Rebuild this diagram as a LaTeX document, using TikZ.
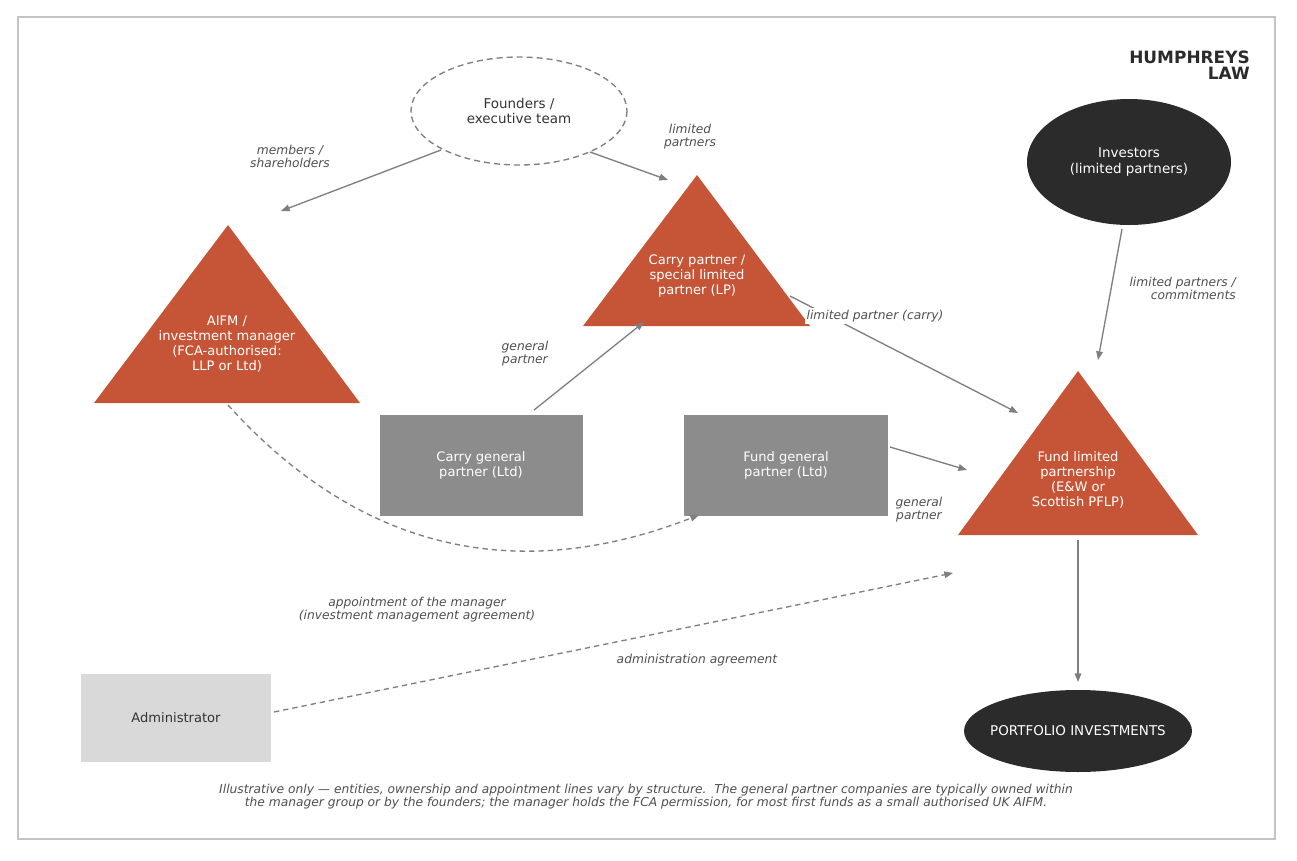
\documentclass[tikz,border=0pt]{standalone}
\usepackage{fontspec}
\setmainfont{DejaVu Sans}
\usetikzlibrary{arrows.meta}
\definecolor{rust}{HTML}{C65538}
\definecolor{ink}{HTML}{2B2B2B}
\definecolor{boxgray}{HTML}{8C8C8C}
\definecolor{lightbox}{HTML}{D9D9D9}
\definecolor{linegray}{HTML}{7F7F7F}
\definecolor{framegray}{HTML}{C4C4C4}
\definecolor{txt}{HTML}{333333}
\definecolor{labtxt}{HTML}{505050}
\tikzset{
  wtext/.style={text=white, align=center, font=\fontsize{9.8}{11.4}\selectfont, inner sep=0pt},
  dtext/.style={text=txt, align=center, font=\fontsize{9.8}{11.4}\selectfont, inner sep=0pt},
  lab/.style={text=labtxt, align=center, font=\fontsize{9.2}{9.8}\selectfont\itshape, inner sep=0pt},
  conn/.style={draw=linegray, line width=1pt, -{Triangle[length=6.5pt,width=5pt]}},
  dconn/.style={conn, dash pattern=on 4pt off 3pt},
}
\begin{document}
\begin{tikzpicture}[x=0.75pt,y=-0.75pt]
\useasboundingbox (0,0) rectangle (1297,861);
\fill[white] (0,0) rectangle (1297,861);
\draw[framegray, line width=1pt] (18,17) rectangle (1275,839);

% brand
\node[anchor=east, align=right, text=ink, font=\fontsize{12.7}{12}\selectfont\bfseries, inner sep=0pt] (brand) at (1250,65) {HUMPHREYS\\LAW};

% shapes
\draw[linegray, line width=1pt, dash pattern=on 4.5pt off 3pt] (519,111) ellipse [x radius=108, y radius=54];
\node[dtext, font=\fontsize{10.1}{11.4}\selectfont] (founders) at (519,111) {Founders /\\executive team};

\fill[ink] (1129,162) ellipse [x radius=102, y radius=63];
\node[wtext, font=\fontsize{10.1}{11.4}\selectfont] (investors) at (1129,162) {Investors\\(limited partners)};

\fill[rust] (228,225) -- (360,403) -- (94,403) -- cycle;
\node[wtext] (aifm) at (227,344) {AIFM /\\investment manager\\(FCA-authorised:\\LLP or Ltd)};

\fill[rust] (697,175) -- (810,326) -- (583,326) -- cycle;
\node[wtext] (carrylp) at (697,276) {Carry partner /\\special limited\\partner (LP)};

\fill[rust] (1078,371) -- (1198,535) -- (958,535) -- cycle;
\node[wtext] (fundlp) at (1078,480) {Fund limited\\partnership\\(E\&W or\\Scottish PFLP)};

\fill[boxgray] (380,415) rectangle (583,516);
\node[wtext] (carrygp) at (481,465.5) {Carry general\\partner (Ltd)};

\fill[boxgray] (684,415) rectangle (888,516);
\node[wtext] (fundgp) at (786,465.5) {Fund general\\partner (Ltd)};

\fill[lightbox] (81,674) rectangle (271,762);
\node[dtext] (admin) at (176,718) {Administrator};

\fill[ink] (1078,731) ellipse [x radius=114, y radius=41];
\node[wtext, font=\fontsize{10.1}{11.4}\selectfont] (portfolio) at (1078,731) {PORTFOLIO INVESTMENTS};

% connector endpoints
\coordinate (f1) at (441,150);
\coordinate (a1) at (281,211);
\coordinate (f2) at (590,152);
\coordinate (c1) at (668,180);
\coordinate (g1) at (534,410);
\coordinate (c2) at (644,322);
\coordinate (c3) at (790,296);
\coordinate (l1) at (1018,413);
\coordinate (i1) at (1122,229);
\coordinate (l2) at (1098,360);
\coordinate (g2) at (890,447);
\coordinate (l3) at (967,470);
\coordinate (l4) at (1078,540);
\coordinate (p1) at (1078,682);
\coordinate (a2) at (228,405);
\coordinate (g3) at (699,515);
\coordinate (d1) at (274,712);
\coordinate (l5) at (953,573);

\draw[conn] (f1) -- (a1);
\draw[conn] (f2) -- (c1);
\draw[conn] (g1) -- (c2);
\draw[conn] (c3) -- (l1);
\draw[conn] (i1) -- (l2);
\draw[conn] (g2) -- (l3);
\draw[conn] (l4) -- (p1);
\draw[dconn] (a2) .. controls (359,550) and (516,586) .. (g3);
\draw[dconn] (d1) -- (l5);

% labels
\node[lab] (lmem) at (290,156) {members /\\shareholders};
\node[lab] (llp) at (690,137) {limited\\partners};
\node[lab] (lgp1) at (525,354) {general\\partner};
\node[lab, fill=white, inner sep=1.5pt] (lcarry) at (875,316) {limited partner (carry)};
\node[lab, anchor=east, align=right] (lcom) at (1236,288) {limited partners /\\commitments};
\node[lab] (lgp2) at (919,510) {general\\partner};
\node[lab] (lapp) at (417,610) {appointment of the manager\\(investment management agreement)};
\node[lab] (ladm) at (697,660) {administration agreement};
\node[lab] (note) at (646,797) {Illustrative only — entities, ownership and appointment lines vary by structure.\ \ The general partner companies are typically owned within\\the manager group or by the founders; the manager holds the FCA permission, for most first funds as a small authorised UK AIFM.};
\end{tikzpicture}
\end{document}
